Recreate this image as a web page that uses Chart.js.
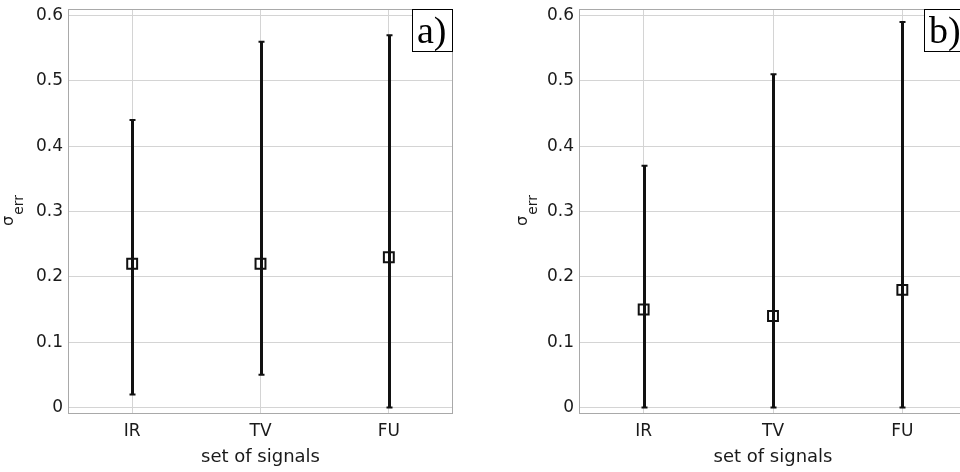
<!DOCTYPE html>
<html><head><meta charset="utf-8">
<script src="https://cdn.jsdelivr.net/npm/chart.js@4/dist/chart.umd.min.js"></script>
<style>
html,body{margin:0;padding:0;background:#fff;overflow:hidden;width:960px;height:472px;position:relative}
#cA{position:absolute;left:0;top:0}
#cB{position:absolute;left:480px;top:0}
</style></head><body>
<canvas id="cA" width="480" height="472"></canvas>
<canvas id="cB" width="500" height="472"></canvas>
<script>
const categories = ['IR', 'TV', 'FU'];
const yTicks = [0, 0.1, 0.2, 0.3, 0.4, 0.5, 0.6];
const meanA = [0.22, 0.22, 0.23];
const lowA  = [0.02, 0.05, 0.00];
const highA = [0.44, 0.56, 0.57];
const meanB = [0.15, 0.14, 0.18];
const lowB  = [0.00, 0.00, 0.00];
const highB = [0.37, 0.51, 0.59];
const panelLabels = ['a)', 'b)'];
const xTitle = 'set of signals';

const deco = {
  id: 'deco',
  beforeDatasetsDraw(chart, args, o) {
    const {ctx, chartArea: a, scales: {x, y}} = chart;
    ctx.save();
    ctx.strokeStyle = '#a9a9a9'; ctx.lineWidth = 1;
    ctx.strokeRect(a.left + 0.5, a.top + 0.5, a.right - a.left - 1, a.bottom - a.top - 1);
    ctx.strokeStyle = '#111';
    o.low.forEach((lo, i) => {
      const px = Math.round(x.getPixelForValue(i + 1)) + 0.5;
      const y1 = y.getPixelForValue(lo), y2 = y.getPixelForValue(o.high[i]);
      ctx.lineWidth = 3;
      ctx.beginPath(); ctx.moveTo(px, y1); ctx.lineTo(px, y2); ctx.stroke();
      ctx.lineWidth = 2;
      ctx.beginPath(); ctx.moveTo(px - 3, y1); ctx.lineTo(px + 3, y1);
      ctx.moveTo(px - 3, y2); ctx.lineTo(px + 3, y2); ctx.stroke();
    });
    ctx.restore();
  },
  afterDraw(chart, args, o) {
    const {ctx, chartArea: a} = chart;
    ctx.save();
    const bw = 41, bh = 43;
    const bx = a.right - o.boxInset - bw, by = a.top;
    ctx.fillStyle = '#fff';
    ctx.fillRect(bx, by, bw, bh);
    ctx.strokeStyle = '#000'; ctx.lineWidth = 1;
    ctx.strokeRect(bx + 0.5, by + 0.5, bw - 1, bh - 1);
    ctx.fillStyle = '#000';
    ctx.font = '38px "Liberation Serif", "Times New Roman", serif';
    ctx.textAlign = 'left'; ctx.textBaseline = 'alphabetic';
    ctx.fillText(o.label, bx + 5, by + 34);
    ctx.translate(a.left - o.sigOff, 226);
    ctx.rotate(-Math.PI / 2);
    ctx.fillStyle = '#1a1a1a';
    ctx.font = '16px "DejaVu Sans"';
    ctx.fillText('σ', 0, 0);
    const w = ctx.measureText('σ').width;
    ctx.font = '14px "DejaVu Sans"';
    ctx.fillText('err', w + 1, 10);
    ctx.restore();
  }
};

function makeChart(id, mean, low, high, label, yWidth, padRight, sigOff, boxInset) {
  return new Chart(document.getElementById(id), {
    type: 'scatter',
    data: {
      datasets: [{
        data: mean.map((m, i) => ({x: i + 1, y: m})),
        pointStyle: 'rect',
        pointRadius: 7,
        pointHoverRadius: 7,
        borderWidth: 2,
        borderColor: '#111',
        backgroundColor: 'rgba(0,0,0,0)'
      }]
    },
    options: {
      responsive: false,
      devicePixelRatio: 1,
      animation: false,
      events: [],
      layout: {padding: {left: 0, top: 9, right: padRight, bottom: 0}},
      plugins: {
        legend: {display: false},
        tooltip: {enabled: false},
        deco: {low, high, label, sigOff, boxInset}
      },
      scales: {
        x: {
          type: 'linear', min: 0.5, max: 3.5,
          afterBuildTicks: s => { s.ticks = categories.map((c, i) => ({value: i + 1})); },
          afterFit: s => { s.height = 58; s.paddingLeft = 0; s.paddingRight = 0; },
          grid: {color: '#d4d4d4', drawTicks: false},
          border: {display: false},
          ticks: {
            padding: 7,
            color: '#1a1a1a',
            font: {family: '"DejaVu Sans"', size: 17},
            callback: v => categories[Math.round(v) - 1] || ''
          },
          title: {
            display: true, text: xTitle, color: '#1a1a1a',
            font: {family: '"DejaVu Sans"', size: 18},
            padding: {top: 0, bottom: 4}
          }
        },
        y: {
          type: 'linear', min: -0.01, max: 0.61,
          afterBuildTicks: s => { s.ticks = yTicks.map(v => ({value: v})); },
          afterFit: s => { s.width = yWidth; s.paddingTop = 0; s.paddingBottom = 0; },
          grid: {color: '#d4d4d4', drawTicks: false},
          border: {display: false},
          ticks: {
            padding: 5,
            color: '#1a1a1a',
            font: {family: '"DejaVu Sans"', size: 17},
            callback: v => String(Math.round(v * 10) / 10)
          }
        }
      }
    },
    plugins: [deco]
  });
}

makeChart('cA', meanA, lowA, highA, panelLabels[0], 68, 27, 55, 0);
makeChart('cB', meanB, lowB, highB, panelLabels[1], 99, 13, 52, 2);
</script>
</body></html>
